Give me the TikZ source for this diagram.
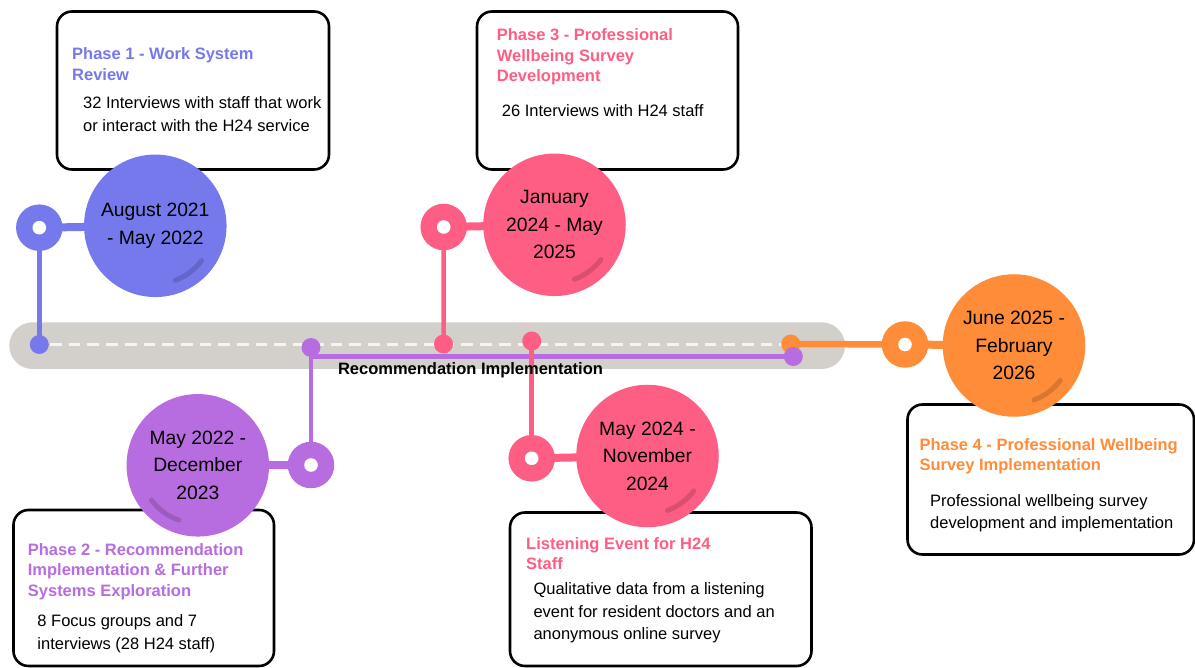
\documentclass[tikz,border=0pt]{standalone}
\usepackage{fontspec}
\setmainfont{Liberation Sans}
\usetikzlibrary{calc}
\definecolor{cblue}{RGB}{117,121,236}
\definecolor{cpurple}{RGB}{183,109,224}
\definecolor{cpink}{RGB}{255,94,132}
\definecolor{corange}{RGB}{255,140,56}
\definecolor{cbar}{RGB}{211,208,203}
\definecolor{cdash}{RGB}{246,244,240}
\pgfdeclarelayer{barlayer}
\pgfdeclarelayer{linelayer}
\pgfsetlayers{barlayer,linelayer,main}
\tikzset{
  big/.style={circle, minimum size=142.5pt, inner sep=0pt, align=center, font=\fontsize{19.3}{27.5}\selectfont},
  ring/.style={circle, minimum size=46.5pt, inner sep=0pt, path picture={\fill[white] (path picture bounding box.center) circle[radius=6.8pt];}},
  dot/.style={circle, minimum size=19pt, inner sep=0pt},
  box/.style={draw=black, line width=2.6pt, rounded corners=15pt, fill=white, anchor=north west, inner sep=0pt, outer sep=0pt},
  ttl/.style={anchor=north west, inner sep=0pt, align=left, font=\bfseries\fontsize{16.5}{20.5}\selectfont},
  bdy/.style={anchor=north west, inner sep=0pt, align=left, font=\fontsize{16.5}{22.5}\selectfont, text=black},
  thinln/.style={line width=4.5pt},
  thickln/.style={line width=8pt},
  gloss/.style={line width=5pt, line cap=round, draw=black, draw opacity=0.15},
}
\begin{document}
\begin{tikzpicture}[x=1pt,y=-1pt]
\useasboundingbox (0,0) rectangle (1195,668);
% boxes
\node[box, minimum width=272pt, minimum height=158pt] (b1) at (57,11.5) {};
\node[box, minimum width=261pt, minimum height=158pt] (b3) at (477,11.5) {};
\node[box, minimum width=260.5pt, minimum height=156pt] (b2) at (13.5,510) {};
\node[box, minimum width=301.5pt, minimum height=153.5pt] (b5) at (510,512.5) {};
\node[box, minimum width=286.5pt, minimum height=150pt] (b4) at (907.5,404.5) {};
% big circles
\node[big, fill=cblue] (c1) at (155.3,225.8) {August 2021\\- May 2022};
\node[big, fill=cpurple] (c2) at (197.8,465.3) {May 2022 -\\December\\2023};
\node[big, fill=cpink] (c3) at (554.5,224.8) {January\\2024 - May\\2025};
\node[big, fill=cpink] (c5) at (647.5,456) {May 2024 -\\November\\2024};
\node[big, fill=corange] (c4) at (1014,345.5) {June 2025 -\\February\\2026};
% gloss arcs
\draw[gloss] (c1.center) ++(-37:58pt) arc[start angle=-37, end angle=-70, radius=58pt];
\draw[gloss] (c3.center) ++(-37:58pt) arc[start angle=-37, end angle=-70, radius=58pt];
\draw[gloss] (c5.center) ++(-37:58pt) arc[start angle=-37, end angle=-70, radius=58pt];
\draw[gloss] (c4.center) ++(-37:58pt) arc[start angle=-37, end angle=-70, radius=58pt];
\draw[gloss] (c2.center) ++(-143:58pt) arc[start angle=-143, end angle=-109, radius=58pt];
% rings
\node[ring, fill=cblue] (r1) at (39.3,227.7) {};
\node[ring, fill=cpurple] (r2) at (311,465) {};
\node[ring, fill=cpink] (r3) at (443.7,227) {};
\node[ring, fill=cpink] (r5) at (531.7,458.3) {};
\node[ring, fill=corange] (r4) at (905,344.5) {};
% dots
\node[dot, fill=cblue] (d1) at (39.3,344.5) {};
\node[dot, fill=cpurple] (d2a) at (311,347.5) {};
\node[dot, fill=cpink] (d3) at (443.5,344) {};
\node[dot, fill=cpink] (d5) at (531.7,341) {};
\node[dot, fill=corange] (d4) at (790.7,344) {};
\node[dot, fill=cpurple] (d2b) at (793.3,356.5) {};
% timeline label
\node[font=\bfseries\fontsize{16.5}{20}\selectfont, anchor=base, inner sep=0pt] (rec) at (470.5,374.5) {Recommendation Implementation};
% texts
\node[ttl, text=cblue] (t1) at (72,47.8) {Phase 1 - Work System\\Review};
\node[bdy] (x1) at (83,96.5) {32 Interviews with staff that work\\or interact with the H24 service};
\node[ttl, text=cpink] (t3) at (496.7,28.7) {Phase 3 - Professional\\Wellbeing Survey\\Development};
\node[bdy] (x3) at (501.7,104.2) {26 Interviews with H24 staff};
\node[ttl, text=cpurple] (t2) at (27.7,543.2) {Phase 2 - Recommendation\\Implementation \& Further\\Systems Exploration};
\node[bdy] (x2) at (37.3,614.5) {8 Focus groups and 7\\interviews (28 H24 staff)};
\node[ttl, text=cpink] (t5) at (526,537.3) {Listening Event for H24\\Staff};
\node[bdy] (x5) at (533.3,582.5) {Qualitative data from a listening\\event for resident doctors and an\\anonymous online survey};
\node[ttl, text=corange] (t4) at (919.3,438.3) {Phase 4 - Professional Wellbeing\\Survey Implementation};
\node[bdy] (x4) at (930,494.3) {Professional wellbeing survey\\development and implementation};
% bar
\begin{pgfonlayer}{barlayer}
\fill[cbar, rounded corners=23.3pt] (9.3,322.3) rectangle (845,369);
\draw[cdash, line width=3.2pt, dash pattern=on 11.7pt off 7pt, dash phase=8pt] (d1.center) -- (d4.center |- d1.center);
\end{pgfonlayer}
% connectors
\begin{pgfonlayer}{linelayer}
\draw[thinln, cblue] (d1.center) -- (r1.center);
\draw[thickln, cblue] (r1.center) -- (c1.center);
\draw[thinln, cpurple] (d2a.center) -- (r2.center);
\draw[thinln, cpurple] (d2a.center) |- (d2b.center);
\draw[thickln, cpurple] (r2.center) -- (c2.center);
\draw[thinln, cpink] (d3.center) -- (r3.center);
\draw[thickln, cpink] (r3.center) -- (c3.center);
\draw[thinln, cpink] (d5.center) -- (r5.center);
\draw[thickln, cpink] (r5.center) -- (c5.center);
\draw[line width=6.5pt, corange] (d4.center) -- (r4.center);
\draw[thickln, corange] (r4.center) -- (c4.center);
\end{pgfonlayer}
\end{tikzpicture}
\end{document}
